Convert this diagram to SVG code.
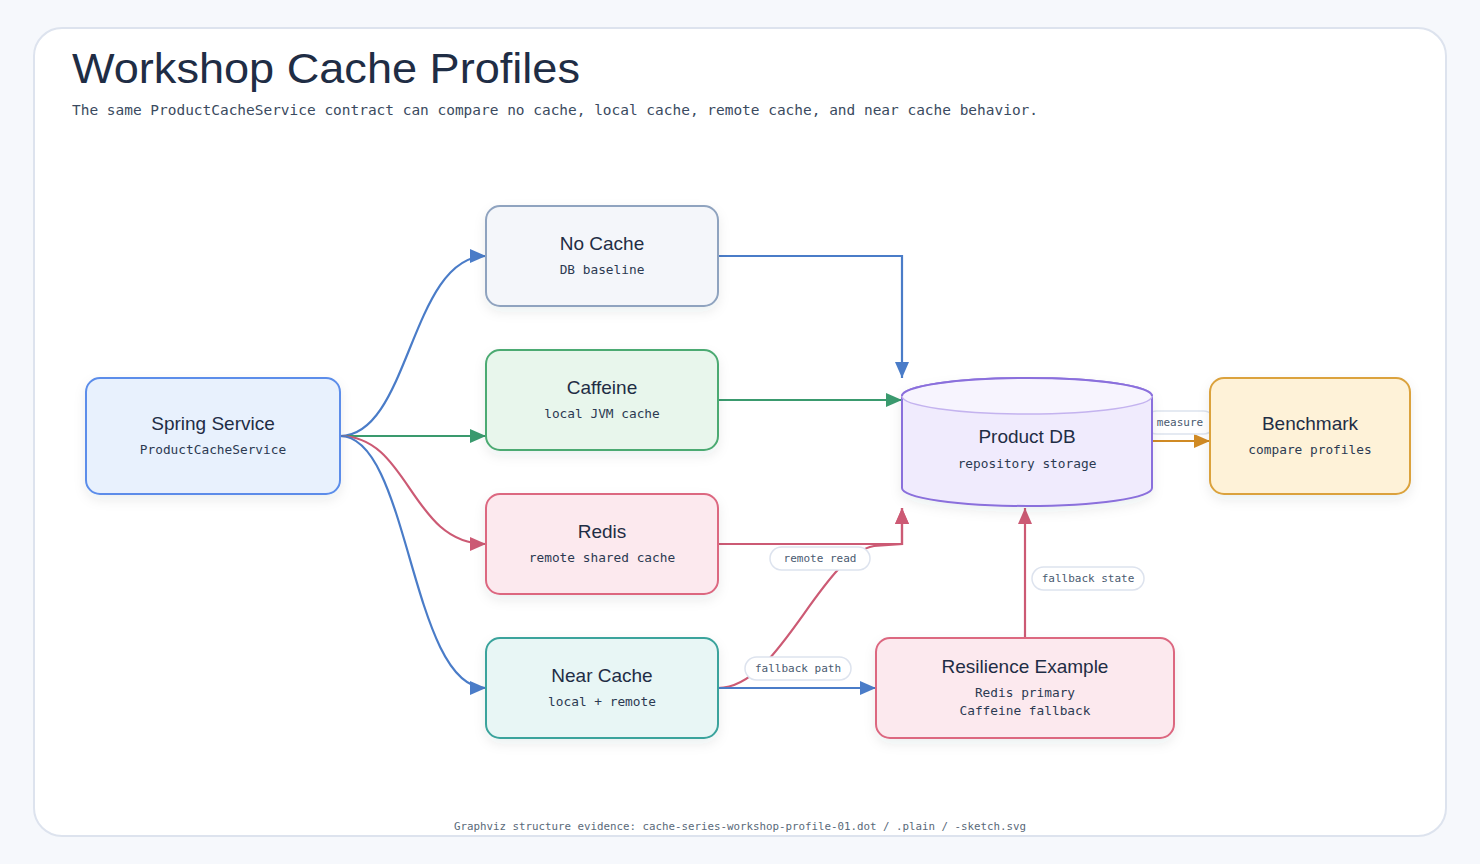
<svg xmlns="http://www.w3.org/2000/svg" width="1480" height="864" viewBox="0 0 1480 864">
<style>
.title{font-family:"Liberation Sans","DejaVu Sans",sans-serif;fill:#1f2d45}
.ntitle{font-family:"Liberation Sans","DejaVu Sans",sans-serif;font-size:19px;fill:#1f2d45;text-anchor:middle}
.nsub{font-family:"DejaVu Sans Mono","Liberation Mono",monospace;font-size:12.8px;fill:#2c3a52;text-anchor:middle}
.lbl{font-family:"DejaVu Sans Mono","Liberation Mono",monospace;font-size:11px;fill:#4a5a70;text-anchor:middle}
.pill{fill:#ffffff;stroke:#dde3ee;stroke-width:1.5}
.edge{fill:none;stroke-width:2.2}
.node{stroke-width:2}
</style>
<defs>
<filter id="sh" x="-20%" y="-20%" width="140%" height="150%">
<feDropShadow dx="0" dy="5" stdDeviation="6" flood-color="#1f2d45" flood-opacity="0.08"/>
</filter>
<marker id="aBlue" markerUnits="userSpaceOnUse" markerWidth="18" markerHeight="14" refX="16" refY="7" orient="auto"><path d="M0,0 L16,7 L0,14 z" fill="#4a7cc8"/></marker>
<marker id="aGreen" markerUnits="userSpaceOnUse" markerWidth="18" markerHeight="14" refX="16" refY="7" orient="auto"><path d="M0,0 L16,7 L0,14 z" fill="#3a9a6e"/></marker>
<marker id="aRed" markerUnits="userSpaceOnUse" markerWidth="18" markerHeight="14" refX="16" refY="7" orient="auto"><path d="M0,0 L16,7 L0,14 z" fill="#cc5a74"/></marker>
<marker id="aOrange" markerUnits="userSpaceOnUse" markerWidth="18" markerHeight="14" refX="16" refY="7" orient="auto"><path d="M0,0 L16,7 L0,14 z" fill="#d08a24"/></marker>
</defs>
<rect x="0" y="0" width="1480" height="864" fill="#f6f8fc"/>
<rect x="34" y="28" width="1412" height="808" rx="28" fill="#ffffff" stroke="#dde3ee" stroke-width="2"/>
<text class="title" x="72" y="83" font-size="42" textLength="508" lengthAdjust="spacingAndGlyphs">Workshop Cache Profiles</text>
<text x="72" y="115" font-family="DejaVu Sans Mono,Liberation Mono,monospace" font-size="14.4" fill="#3a4a60" textLength="966" lengthAdjust="spacingAndGlyphs">The same ProductCacheService contract can compare no cache, local cache, remote cache, and near cache behavior.</text>

<g id="connectors">
<path class="edge" stroke="#4a7cc8" d="M340,436 C410,436 410,256 486,256" marker-end="url(#aBlue)"/>
<path class="edge" stroke="#3a9a6e" d="M340,436 L486,436" marker-end="url(#aGreen)"/>
<path class="edge" stroke="#cc5a74" d="M340,436 C410,436 410,544 486,544" marker-end="url(#aRed)"/>
<path class="edge" stroke="#4a7cc8" d="M340,436 C410,436 410,688 486,688" marker-end="url(#aBlue)"/>
<path class="edge" stroke="#4a7cc8" d="M718,256 L902,256 L902,378" marker-end="url(#aBlue)"/>
<path class="edge" stroke="#3a9a6e" d="M718,400 L902,400" marker-end="url(#aGreen)"/>
<path class="edge" stroke="#cc5a74" d="M718,544 L902,544 L902,508" marker-end="url(#aRed)"/>
<path class="edge" stroke="#cc5a74" d="M718,688 C780,688 820,556 874,546 L902,544 L902,508" marker-end="url(#aRed)"/>
<path class="edge" stroke="#4a7cc8" d="M718,688 L876,688" marker-end="url(#aBlue)"/>
<path class="edge" stroke="#cc5a74" d="M1025,638 L1025,508" marker-end="url(#aRed)"/>
<path class="edge" stroke="#d08a24" d="M1152,441 L1210,441" marker-end="url(#aOrange)"/>
<g id="labels">
<rect class="pill" x="770" y="547" width="100" height="23" rx="11.5"/>
<text class="lbl" x="820" y="562">remote read</text>
<rect class="pill" x="745" y="657" width="106" height="23" rx="11.5"/>
<text class="lbl" x="798" y="672">fallback path</text>
<rect class="pill" x="1032" y="567" width="112" height="23" rx="11.5"/>
<text class="lbl" x="1088" y="582">fallback state</text>
<rect class="pill" x="1145" y="411" width="70" height="23" rx="11.5"/>
<text class="lbl" x="1180" y="426">measure</text>
</g>
</g>

<g id="spring">
<rect class="node" x="86" y="378" width="254" height="116" rx="14" fill="#e8f1fd" stroke="#5b8dea" filter="url(#sh)"/>
<text class="ntitle" x="213" y="430">Spring Service</text>
<text class="nsub" x="213" y="454">ProductCacheService</text>
</g>
<g id="nocache">
<rect class="node" x="486" y="206" width="232" height="100" rx="14" fill="#f4f6fa" stroke="#8fa3bf" filter="url(#sh)"/>
<text class="ntitle" x="602" y="250">No Cache</text>
<text class="nsub" x="602" y="274">DB baseline</text>
</g>
<g id="caffeine">
<rect class="node" x="486" y="350" width="232" height="100" rx="14" fill="#e8f6ec" stroke="#4caa72" filter="url(#sh)"/>
<text class="ntitle" x="602" y="394">Caffeine</text>
<text class="nsub" x="602" y="418">local JVM cache</text>
</g>
<g id="redis">
<rect class="node" x="486" y="494" width="232" height="100" rx="14" fill="#fce9ee" stroke="#dc6780" filter="url(#sh)"/>
<text class="ntitle" x="602" y="538">Redis</text>
<text class="nsub" x="602" y="562">remote shared cache</text>
</g>
<g id="nearcache">
<rect class="node" x="486" y="638" width="232" height="100" rx="14" fill="#e8f6f5" stroke="#3aa39c" filter="url(#sh)"/>
<text class="ntitle" x="602" y="682">Near Cache</text>
<text class="nsub" x="602" y="706">local + remote</text>
</g>
<g id="productdb">
<path d="M902,396 A125,18 0 0 1 1152,396 L1152,488 A125,18 0 0 1 902,488 Z" fill="#f0ebfd" stroke="#8a6fdc" stroke-width="2" filter="url(#sh)"/>
<ellipse cx="1027" cy="396" rx="125" ry="18" fill="#f7f4fe" stroke="#c4b3ef" stroke-width="1.5"/>
<path d="M902,396 A125,18 0 0 1 1152,396" fill="none" stroke="#8a6fdc" stroke-width="2"/>
<text class="ntitle" x="1027" y="443">Product DB</text>
<text class="nsub" x="1027" y="468">repository storage</text>
</g>
<g id="benchmark">
<rect class="node" x="1210" y="378" width="200" height="116" rx="14" fill="#fef2d8" stroke="#dba23c" filter="url(#sh)"/>
<text class="ntitle" x="1310" y="430">Benchmark</text>
<text class="nsub" x="1310" y="454">compare profiles</text>
</g>
<g id="resilience">
<rect class="node" x="876" y="638" width="298" height="100" rx="14" fill="#fce9ee" stroke="#dc6780" filter="url(#sh)"/>
<text class="ntitle" x="1025" y="673">Resilience Example</text>
<text class="nsub" x="1025" y="697">Redis primary</text>
<text class="nsub" x="1025" y="715">Caffeine fallback</text>
</g>
<text x="740" y="830" font-family="DejaVu Sans Mono,Liberation Mono,monospace" font-size="10.8" fill="#5a6a7a" text-anchor="middle">Graphviz structure evidence: cache-series-workshop-profile-01.dot / .plain / -sketch.svg</text>
</svg>
